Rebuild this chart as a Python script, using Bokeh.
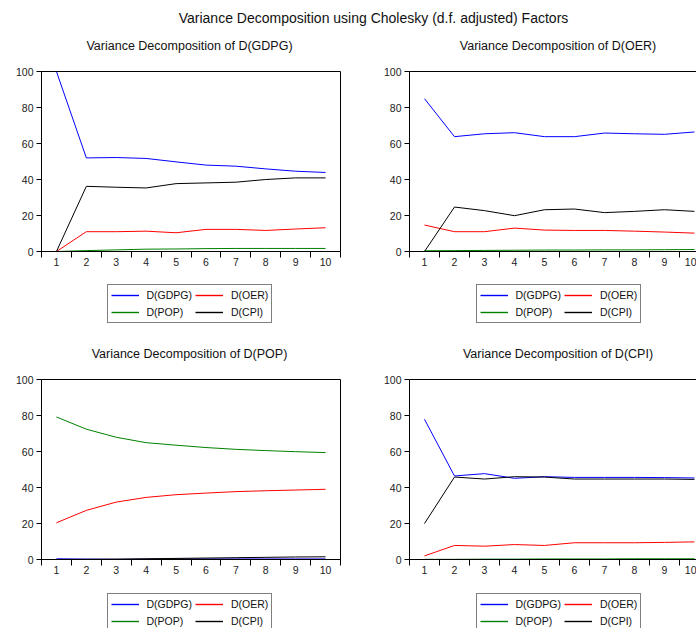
from bokeh.plotting import figure
from bokeh.models import Legend, LegendItem, FixedTicker, LinearAxis, Label, Range1d
from bokeh.layouts import column, row
from bokeh.embed import file_html
from bokeh.resources import INLINE

# ---------------- data ----------------
periods = [1, 2, 3, 4, 5, 6, 7, 8, 9, 10]
main_title = "Variance Decomposition using Cholesky (d.f. adjusted) Factors"
series_names = ["D(GDPG)", "D(OER)", "D(POP)", "D(CPI)"]

# Variance decomposition of D(GDPG)
gdpg_gdpg = [100.0, 52.0, 52.2, 51.7, 49.8, 48.0, 47.4, 45.9, 44.6, 43.9]
gdpg_oer = [0.0, 11.0, 11.0, 11.3, 10.4, 12.3, 12.3, 11.7, 12.5, 13.2]
gdpg_pop = [0.0, 0.5, 0.9, 1.3, 1.4, 1.6, 1.7, 1.7, 1.7, 1.7]
gdpg_cpi = [0.0, 36.2, 35.7, 35.3, 37.7, 38.1, 38.5, 40.0, 40.9, 40.9]

# Variance decomposition of D(OER)
oer_gdpg = [84.9, 63.8, 65.4, 66.0, 63.8, 63.8, 65.8, 65.4, 65.1, 66.4]
oer_oer = [14.7, 11.0, 11.0, 13.0, 11.9, 11.7, 11.7, 11.3, 10.8, 10.2]
oer_pop = [0.4, 0.5, 0.6, 0.7, 0.8, 0.8, 0.9, 0.9, 1.0, 1.1]
oer_cpi = [0.0, 24.7, 22.7, 19.9, 23.2, 23.6, 21.6, 22.3, 23.2, 22.3]

# Variance decomposition of D(POP)
pop_gdpg = [0.4, 0.2, 0.1, 0.2, 0.3, 0.3, 0.3, 0.3, 0.3, 0.3]
pop_oer = [20.4, 27.3, 31.9, 34.5, 36.0, 36.9, 37.7, 38.2, 38.6, 39.0]
pop_pop = [79.2, 72.4, 67.9, 64.9, 63.5, 62.2, 61.2, 60.5, 59.9, 59.4]
pop_cpi = [0.0, 0.1, 0.2, 0.4, 0.6, 0.8, 1.0, 1.2, 1.4, 1.5]

# Variance decomposition of D(CPI)
cpi_gdpg = [77.9, 46.4, 47.7, 45.1, 46.0, 45.6, 45.6, 45.6, 45.5, 45.3]
cpi_oer = [2.0, 7.8, 7.4, 8.3, 7.8, 9.3, 9.3, 9.3, 9.5, 9.8]
cpi_pop = [0.1, 0.1, 0.2, 0.2, 0.3, 0.3, 0.3, 0.4, 0.4, 0.4]
cpi_cpi = [20.0, 45.8, 44.7, 46.0, 45.8, 44.7, 44.7, 44.7, 44.7, 44.5]

y_ticks = [0, 20, 40, 60, 80, 100]

# ---------------- styles ----------------
COLORS = ["#0000FF", "#FF0000", "#008000", "#000000"]
FONT = "Liberation Sans"


def x_end(right_side):
    return 10.067 if right_side else 10.5


def bare_figure(right_side, height, y0, y1):
    f = figure(width=348, height=height, x_range=Range1d(0.5, x_end(right_side)),
               y_range=Range1d(y0, y1),
               output_backend="svg", toolbar_location=None, x_axis_type=None, y_axis_type=None,
               min_border_left=0, min_border_right=0, min_border_top=0, min_border_bottom=0)
    f.grid.visible = False
    f.outline_line_color = None
    return f


def make_title(text, right_side):
    tf = bare_figure(right_side, 30, 0, 30)
    tf.add_layout(Label(x=5.45, y=15, text=text, text_align="center", text_baseline="middle",
                        text_font=FONT, text_font_size="12.5px", text_color="#111111"))
    return tf


def make_panel(series, right_side):
    p = figure(width=348, height=220,
               x_range=Range1d(0.5, x_end(right_side)), y_range=Range1d(0, 100),
               output_backend="svg", toolbar_location=None,
               min_border_left=61 if right_side else 41,
               min_border_right=0 if right_side else 8,
               min_border_top=11, min_border_bottom=29)
    p.grid.visible = False
    p.background_fill_color = "white"
    p.border_fill_color = "white"

    for vals, col in zip(series, COLORS):
        p.line(periods, vals, line_color=col, line_width=1)

    xa = p.xaxis[0]
    xa.ticker = FixedTicker(ticks=periods, minor_ticks=[v - 0.5 for v in periods] + [periods[-1] + 0.5])
    xa.major_tick_in = 0
    xa.major_tick_out = 0
    xa.minor_tick_in = 0
    xa.minor_tick_out = 6
    xa.minor_tick_line_color = "black"
    xa.axis_line_color = "black"
    xa.major_label_text_font = FONT
    xa.major_label_text_font_size = "10.5px"
    xa.major_label_text_color = "#222222"
    xa.major_label_standoff = 0

    ya = p.yaxis[0]
    ya.ticker = FixedTicker(ticks=y_ticks, minor_ticks=[])
    ya.major_tick_in = 0
    ya.major_tick_out = 5
    ya.major_tick_line_color = "black"
    ya.axis_line_color = "black"
    ya.major_label_text_font = FONT
    ya.major_label_text_font_size = "10.5px"
    ya.major_label_text_color = "#222222"
    ya.major_label_standoff = 3

    if right_side:
        # frame continues past the window edge: draw only the top edge
        p.outline_line_color = None
        top = LinearAxis(ticker=FixedTicker(ticks=[]), major_label_text_font_size="0px",
                         major_tick_out=0, major_tick_in=0, minor_tick_out=0, minor_tick_in=0,
                         major_label_standoff=0, axis_line_color="black")
        p.add_layout(top, "above")
    else:
        p.outline_line_color = "black"
        p.outline_line_width = 1
        p.outline_line_alpha = 1
    return p


def make_legend(right_side, height, bottom, series):
    # ranges kept away from the data so the proxy lines stay out of view
    lf = figure(width=348, height=height, x_range=Range1d(-2, -1), y_range=Range1d(-2, -1),
                output_backend="svg", toolbar_location=None, x_axis_type=None, y_axis_type=None,
                min_border_left=0, min_border_right=0, min_border_top=0, min_border_bottom=0)
    lf.grid.visible = False
    lf.outline_line_color = None
    proxies = [lf.line(periods, vals, line_color=col, line_width=1.4) for vals, col in zip(series, COLORS)]
    legend = Legend(
        items=[LegendItem(label=n, renderers=[r]) for n, r in zip(series_names, proxies)],
        location=(66.5 if right_side else 65.5, bottom), orientation="horizontal", ncols=2,
        border_line_color="black", border_line_width=1,
        background_fill_color="white", background_fill_alpha=1,
        label_text_font=FONT, label_text_font_size="10.5px", label_text_color="#111111",
        glyph_width=28, glyph_height=14, label_height=14, label_standoff=8,
        padding=3, spacing=3, margin=0,
    )
    lf.add_layout(legend, "center")
    return lf


s1 = [gdpg_gdpg, gdpg_oer, gdpg_pop, gdpg_cpi]
s2 = [oer_gdpg, oer_oer, oer_pop, oer_cpi]
s3 = [pop_gdpg, pop_oer, pop_pop, pop_cpi]
s4 = [cpi_gdpg, cpi_oer, cpi_pop, cpi_cpi]

c1 = column(make_title("Variance Decomposition of D(GDPG)", False), make_panel(s1, False),
            make_legend(False, 58, 15.5, s1))
c2 = column(make_title("Variance Decomposition of D(OER)", True), make_panel(s2, True),
            make_legend(True, 58, 15.5, s2))
c3 = column(make_title("Variance Decomposition of D(POP)", False), make_panel(s3, False),
            make_legend(False, 40, -3.5, s3))
c4 = column(make_title("Variance Decomposition of D(CPI)", True), make_panel(s4, True),
            make_legend(True, 40, -3.5, s4))

t = figure(width=696, height=30, x_range=Range1d(0, 696), y_range=Range1d(0, 30),
           output_backend="svg", toolbar_location=None, x_axis_type=None, y_axis_type=None,
           min_border_left=0, min_border_right=0, min_border_top=0, min_border_bottom=0)
t.grid.visible = False
t.outline_line_color = None
t.add_layout(Label(x=373, y=13, text=main_title, text_align="center", text_baseline="middle",
                   text_font=FONT, text_font_size="14px", text_color="#111111"))

layout = column(t, row(c1, c2), row(c3, c4))
open("out.html", "w").write(file_html(layout, INLINE))
